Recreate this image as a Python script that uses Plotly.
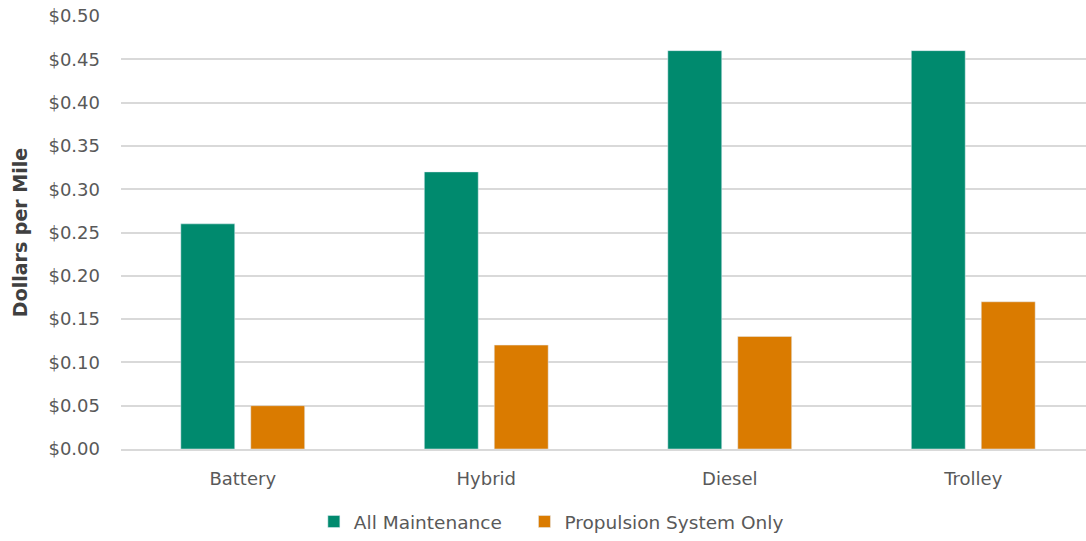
import plotly.graph_objects as go

categories = ["Battery", "Hybrid", "Diesel", "Trolley"]
all_maintenance = [0.26, 0.32, 0.46, 0.46]
propulsion_only = [0.05, 0.12, 0.13, 0.17]
tick_vals = [0, 0.05, 0.10, 0.15, 0.20, 0.25, 0.30, 0.35, 0.40, 0.45, 0.50]
tick_text = ["$%.2f" % v for v in tick_vals]

font_family = "DejaVu Sans, sans-serif"
text_color = "#595959"

fig = go.Figure()
fig.add_trace(go.Bar(name="All Maintenance\u00a0\u00a0\u00a0", x=categories, y=all_maintenance,
                     marker_color="#008A6E", hovertemplate="All Maintenance: %{y:$.2f}<extra></extra>"))
fig.add_trace(go.Bar(name="Propulsion System Only", x=categories, y=propulsion_only,
                     marker_color="#DA7B00"))

fig.update_layout(
    width=1095, height=541,
    margin=dict(l=121, r=0, t=16, b=92),
    paper_bgcolor="white", plot_bgcolor="white",
    barmode="group", bargap=0.4255, bargroupgap=0.229,
    font=dict(family=font_family, color=text_color, size=18),
    legend=dict(orientation="h", x=0.198, xanchor="left", y=-0.125, yanchor="top",
                font=dict(size=18.5, color=text_color), itemwidth=30,
                traceorder="normal"),
    xaxis=dict(showgrid=False, showline=True, linecolor="#D9D9D9", linewidth=1.5,
               tickfont=dict(size=18, color=text_color), ticks="",
               ticklabelstandoff=13, automargin=False),
    yaxis=dict(range=[0, 0.5], tickvals=tick_vals, ticktext=tick_text,
               showgrid=True, gridcolor="#D9D9D9", gridwidth=1.5, zeroline=False,
               tickfont=dict(size=18, color=text_color), ticklabelstandoff=20,
               ticklabeloverflow="allow", automargin=False,
               title=dict(text="<b>Dollars per Mile</b>", font=dict(size=19, color="#404040"),
                          standoff=15)),
)

fig.write_html("out.html", config={"displayModeBar": False},
               post_script="document.body.style.margin='0px';")
